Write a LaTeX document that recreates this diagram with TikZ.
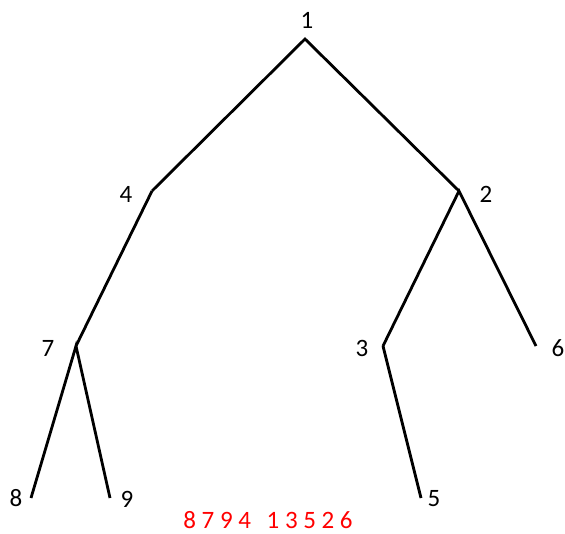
\documentclass[tikz,border=0pt]{standalone}
\usepackage{fontspec}
\setmainfont{Carlito}

\begin{document}
\begin{tikzpicture}[x=1pt,y=-1pt,
    edge/.style={line width=2.8pt},
    lbl/.style={font=\fontsize{25}{27}\selectfont,inner sep=0pt}]
  \useasboundingbox (0,0) rectangle (565,534);
  \coordinate (n1) at (305,39);   % root
  \coordinate (n4) at (152,191);
  \coordinate (n2) at (459,191);
  \coordinate (n7) at (76,346);
  \coordinate (n3) at (383,346);
  \coordinate (n6) at (536,346);
  \coordinate (n8) at (31,498);
  \coordinate (n9) at (110,498);
  \coordinate (n5) at (421,498);

  % Edges
  \draw[edge] (n4) -- (n1) -- (n2);
  \draw[edge] (n7) -- (n4);
  \draw[edge] (n3) -- (n2) -- (n6);
  \draw[edge] (n8) -- (n7) -- (n9);
  \draw[edge] (n3) -- (n5);

  % Vertex labels
  \node[lbl] (l1) at (307,20) {1};
  \node[lbl] (l4) at (126,194) {4};
  \node[lbl] (l2) at (486,194) {2};
  \node[lbl] (l7) at (48,348) {7};
  \node[lbl] (l3) at (362,348) {3};
  \node[lbl] (l6) at (558,348) {6};
  \node[lbl] (l8) at (16,498) {8};
  \node[lbl] (l9) at (127,499) {9};
  \node[lbl] (l5) at (434,499) {5};

  % Traversal
  \node[lbl,text=red] (order) at (268,520) {8 7 9 4\hspace{10pt} 1 3 5 2 6};
\end{tikzpicture}
\end{document}
